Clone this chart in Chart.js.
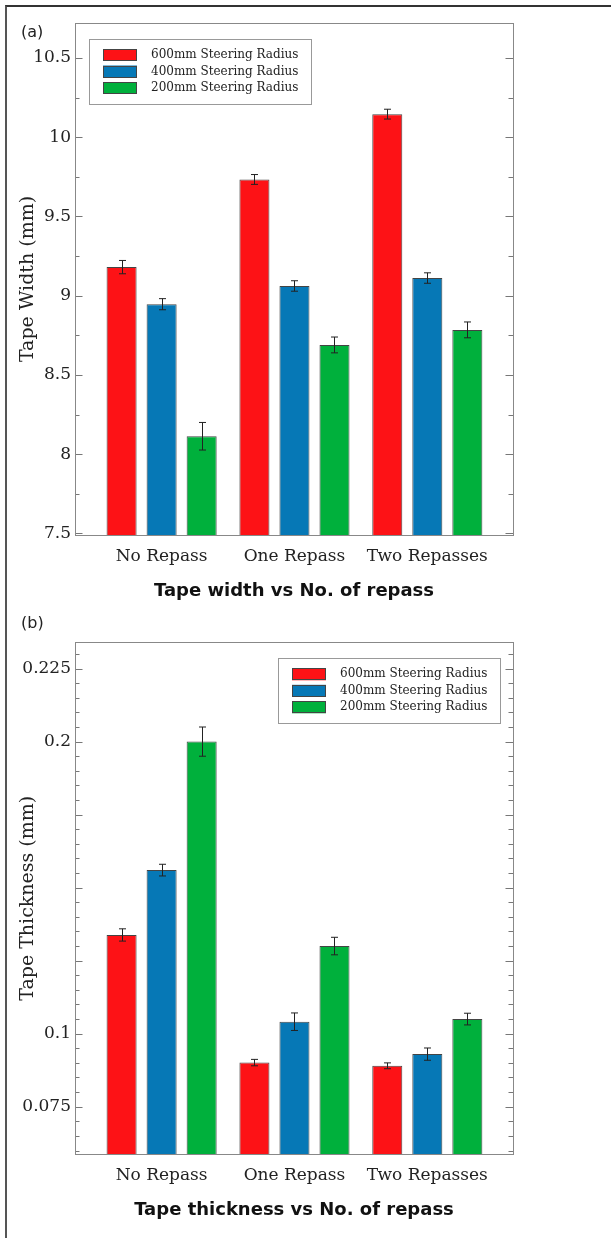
<!DOCTYPE html>
<html>
<head>
<meta charset="utf-8">
<script src="https://cdn.jsdelivr.net/npm/chart.js@4.4.1/dist/chart.umd.min.js"></script>
<style>
  body { margin: 0; background: #fff; }
  #page { position: relative; width: 611px; height: 1238px; overflow: hidden; background: #fff; }
  #frame { position: absolute; left: 5px; top: 5px; width: 700px; height: 1300px;
           border-top: 2px solid #333; border-left: 2px solid #555; }
  canvas { position: absolute; left: 0; }
  .panel { position: absolute; left: 21px; font: 16px "DejaVu Sans", sans-serif; color: #222; }
</style>
</head>
<body>
<div id="page">
  <div id="frame"></div>
  <canvas id="width-chart" width="611" height="610" style="top:0"></canvas>
  <canvas id="thick-chart" width="611" height="628" style="top:610px"></canvas>
  <div class="panel" style="top:22px">(a)</div>
  <div class="panel" style="top:613px">(b)</div>
</div>
<script>
// categories and series
const categories = ["No Repass", "One Repass", "Two Repasses"];
const seriesLabels = ["600mm Steering Radius", "400mm Steering Radius", "200mm Steering Radius"];
const seriesColors = ["#fd1216", "#0678b6", "#00b03c"];

// (a) tape width, mm
const width600 = [9.18, 9.733, 10.145];
const width400 = [8.946, 9.061, 9.111];
const width200 = [8.113, 8.689, 8.784];
const widthErr600 = [0.042, 0.031, 0.031];
const widthErr400 = [0.035, 0.033, 0.033];
const widthErr200 = [0.087, 0.05, 0.05];
const widthTicks = [7.5, 8, 8.5, 9, 9.5, 10, 10.5];
const widthTickLabels = ["7.5", "8", "8.5", "9", "9.5", "10", "10.5"];

// (b) tape thickness, mm
const thick600 = [0.1338, 0.0901, 0.089];
const thick400 = [0.156, 0.1041, 0.093];
const thick200 = [0.2, 0.13, 0.105];
const thickErr600 = [0.0021, 0.0011, 0.001];
const thickErr400 = [0.002, 0.003, 0.0021];
const thickErr200 = [0.005, 0.003, 0.002];
const thickTicks = [0.075, 0.1, 0.125, 0.15, 0.175, 0.2, 0.225];
const thickTickLabels = ["0.075", "0.1", "", "", "", "0.2", "0.225"];

const serif = "DejaVu Serif";

// error bars, inward ticks, plot box and the legend
const decorPlugin = {
  id: 'decor',
  afterDatasetsDraw(chart, args, opts) {
    const ctx = chart.ctx, a = chart.chartArea, y = chart.scales.y;
    ctx.save();

    ctx.strokeStyle = '#222';
    ctx.lineWidth = 1;
    chart.data.datasets.forEach(function (ds, di) {
      chart.getDatasetMeta(di).data.forEach(function (bar, i) {
        const v = ds.data[i].y, e = ds.err[i];
        const x = Math.round(bar.x) + 0.5;
        const t = y.getPixelForValue(v + e), b = y.getPixelForValue(v - e);
        ctx.beginPath();
        ctx.moveTo(x, t); ctx.lineTo(x, b);
        ctx.moveTo(x - 3.5, t); ctx.lineTo(x + 3.5, t);
        ctx.moveTo(x - 3.5, b); ctx.lineTo(x + 3.5, b);
        ctx.stroke();
      });
    });

    // ticks pointing inwards on both sides
    ctx.strokeStyle = '#777';
    ctx.beginPath();
    const steps = Math.round((y.max - y.min) / opts.minorStep) + 2;
    const first = Math.ceil(y.min / opts.minorStep) * opts.minorStep;
    for (let k = 0; k < steps; k++) {
      const v = first + k * opts.minorStep;
      if (v > y.max) break;
      const isMajor = y.ticks.some(function (t) { return Math.abs(t.value - v) < opts.minorStep / 10; });
      const len = isMajor ? 7.5 : 4.5;
      const py = Math.round(y.getPixelForValue(v)) + 0.5;
      ctx.moveTo(a.left, py); ctx.lineTo(a.left + len, py);
      ctx.moveTo(a.right, py); ctx.lineTo(a.right - len, py);
    }
    ctx.stroke();

    ctx.strokeStyle = '#888';
    ctx.strokeRect(Math.round(a.left) + 0.5, Math.round(a.top) + 0.5,
      Math.round(a.right - a.left), Math.round(a.bottom - a.top));

    // legend box
    const lw = 222, lh = 65;
    const lx = opts.legendSide === 'left' ? a.left + 14 : a.right - 13 - lw;
    const ly = a.top + 16;
    ctx.fillStyle = '#fff';
    ctx.fillRect(lx, ly, lw, lh);
    ctx.strokeStyle = '#999';
    ctx.strokeRect(Math.round(lx) + 0.5, Math.round(ly) + 0.5, lw, lh);
    ctx.font = '12px "' + serif + '"';
    ctx.textBaseline = 'middle';
    chart.data.datasets.forEach(function (ds, di) {
      const cy = ly + 16 + di * 16.5;
      ctx.fillStyle = ds.backgroundColor;
      ctx.fillRect(lx + 14, cy - 6, 34, 12);
      ctx.strokeStyle = '#444';
      ctx.strokeRect(Math.round(lx + 14) + 0.5, Math.round(cy - 6) + 0.5, 33, 11);
      ctx.fillStyle = '#222';
      ctx.fillText(ds.label, lx + 62, cy);
    });
    ctx.restore();
  }
};

function makeDatasets(series, errors) {
  return series.map(function (vals, si) {
    return {
      label: seriesLabels[si],
      data: vals.map(function (v, i) { return {x: i, y: v}; }),
      err: errors[si],
      backgroundColor: seriesColors[si],
      borderColor: '#444',
      borderWidth: 1,
      categoryPercentage: 0.904,
      barPercentage: 0.75
    };
  });
}

function makeChart(id, opt) {
  return new Chart(document.getElementById(id), {
    type: 'bar',
    data: { datasets: makeDatasets(opt.series, opt.errors) },
    plugins: [decorPlugin],
    options: {
      responsive: false,
      animation: false,
      layout: { padding: { top: opt.top, right: 98, left: 0, bottom: 0 } },
      plugins: {
        legend: { display: false },
        tooltip: { enabled: false },
        decor: { minorStep: opt.minorStep, legendSide: opt.legendSide }
      },
      scales: {
        x: {
          type: 'linear',
          offset: false,
          min: -0.652, max: 2.645,
          grid: { display: false, drawTicks: false, offset: false },
          border: { display: false },
          afterBuildTicks: function (s) { s.ticks = categories.map(function (c, i) { return {value: i}; }); },
          afterFit: function (s) { s.height = opt.xHeight; },
          ticks: {
            autoSkip: false, maxRotation: 0, padding: 11, color: '#222',
            font: { family: serif, size: 17 },
            callback: function (v, i) { return categories[i]; }
          },
          title: {
            display: true, text: opt.title, color: '#111',
            font: { family: 'DejaVu Sans', size: 18, weight: 'bold' },
            padding: { top: 0, bottom: opt.titlePad }
          }
        },
        y: {
          min: opt.yMin, max: opt.yMax,
          grid: { display: false, drawTicks: false },
          border: { display: false },
          afterBuildTicks: function (s) { s.ticks = opt.ticks.map(function (v) { return {value: v}; }); },
          afterFit: function (s) { s.width = 75; },
          ticks: {
            autoSkip: false, padding: 4, color: '#222',
            font: { family: serif, size: 17 },
            callback: function (v, i) { return opt.tickLabels[i]; }
          },
          title: {
            display: true, text: opt.yTitle, color: '#222',
            font: { family: serif, size: 19 },
            padding: { top: 17, bottom: 0 }
          }
        }
      }
    }
  });
}

makeChart('width-chart', {
  series: [width600, width400, width200],
  errors: [widthErr600, widthErr400, widthErr200],
  ticks: widthTicks, tickLabels: widthTickLabels,
  yMin: 7.49, yMax: 10.72, minorStep: 0.25,
  top: 23, xHeight: 75, titlePad: 7.5,
  title: 'Tape width vs No. of repass', yTitle: 'Tape Width (mm)',
  legendSide: 'left'
});

makeChart('thick-chart', {
  series: [thick600, thick400, thick200],
  errors: [thickErr600, thickErr400, thickErr200],
  ticks: thickTicks, tickLabels: thickTickLabels,
  yMin: 0.0587, yMax: 0.234, minorStep: 0.005,
  top: 32.3, xHeight: 83.7, titlePad: 17,
  title: 'Tape thickness vs No. of repass', yTitle: 'Tape Thickness (mm)',
  legendSide: 'right'
});
</script>
</body>
</html>
